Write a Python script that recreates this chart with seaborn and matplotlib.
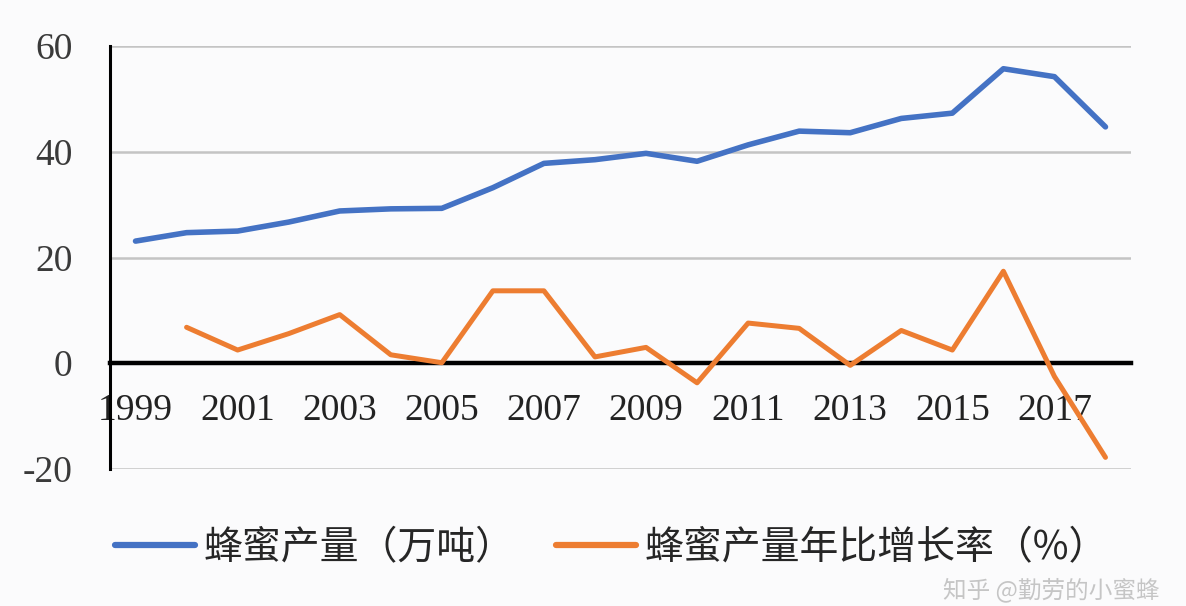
import matplotlib
matplotlib.use("Agg")
import matplotlib.pyplot as plt
import seaborn as sns
import pandas as pd
import numpy as np

years = list(range(1999, 2019))
production = [23.1, 24.7, 25.0, 26.7, 28.8, 29.2, 29.3, 33.2, 37.8, 38.5,
              39.7, 38.2, 41.3, 43.9, 43.6, 46.3, 47.3, 55.7, 54.2, 44.7]
growth_years = list(range(2000, 2019))
growth = [6.8, 2.5, 5.6, 9.2, 1.6, 0.1, 13.7, 13.7, 1.2, 3.0,
          -3.7, 7.6, 6.6, -0.4, 6.2, 2.5, 17.4, -2.5, -17.8]
xtick_years = list(range(1999, 2018, 2))
yticks = [-20, 0, 20, 40, 60]
label_prod = "蜂蜜产量（万吨）"
label_growth = "蜂蜜产量年比增长率（%）"
watermark = "知乎 @勤劳的小蜜蜂"

sns.set_theme(style="white")
plt.rcParams['font.family'] = ['Liberation Serif', 'Noto Sans CJK SC', 'DejaVu Sans']
plt.rcParams['axes.unicode_minus'] = False

df1 = pd.DataFrame({"year": years, "value": production})
df2 = pd.DataFrame({"year": growth_years, "value": growth})

bg = "#fbfbfc"
fig = plt.figure(figsize=(11.86, 6.06), dpi=100, facecolor=bg)
ax = fig.add_axes([110/1186, 1-469/606, (1131-110)/1186, (469-46)/606])
ax.set_facecolor(bg)

for yv in [-20, 20, 40, 60]:
    ax.axhline(yv, color="#c4c4c4", lw=1.8, zorder=0)

sns.lineplot(data=df1, x="year", y="value", ax=ax, color="#4472C4", lw=4.0,
             label=label_prod, legend=False, solid_capstyle="round")
sns.lineplot(data=df2, x="year", y="value", ax=ax, color="#ED7D31", lw=3.6,
             label=label_growth, legend=False, solid_capstyle="round")

ax.set_xlim(1998.5, 2018.5)
ax.set_ylim(-20, 60)
ax.set_yticks(yticks)
ax.set_yticklabels([str(v) for v in yticks])
ax.set_xticks(xtick_years)
ax.set_xticklabels([str(v) for v in xtick_years])
ax.set_xlabel("")
ax.set_ylabel("")

for s in ["top", "right"]:
    ax.spines[s].set_visible(False)
ax.spines["left"].set_color("black")
ax.spines["left"].set_linewidth(2.2)
ax.spines["bottom"].set_position(("data", 0))
ax.spines["bottom"].set_color("black")
ax.spines["bottom"].set_linewidth(3.2)
ax.spines["bottom"].set_zorder(1)

ax.tick_params(axis="y", length=0, pad=27, labelsize=27, labelcolor="#3a3a3a")
ax.tick_params(axis="x", length=0, pad=22, labelsize=27, labelcolor="#222222")
for t in ax.get_yticklabels() + ax.get_xticklabels():
    t.set_fontfamily(['Liberation Serif', 'DejaVu Sans'])

handles, labels = ax.get_legend_handles_labels()
leg = fig.legend(handles, labels, loc="center left",
                 bbox_to_anchor=(80/1186, 1-548/606), ncol=2, frameon=False,
                 prop={"family": ["Noto Sans CJK SC", "DejaVu Sans"], "size": 28},
                 handlelength=2.05, handletextpad=0.22, columnspacing=1.07)
for h in leg.legend_handles:
    h.set_linewidth(4.5)

fig.text(1160/1186, 1-590/606, watermark, ha="right", va="center",
         fontsize=17, color="#b8b8b8", alpha=0.8,
         family=["Noto Sans CJK SC", "DejaVu Sans"])

fig.savefig("out.png", dpi=100, facecolor=bg)
